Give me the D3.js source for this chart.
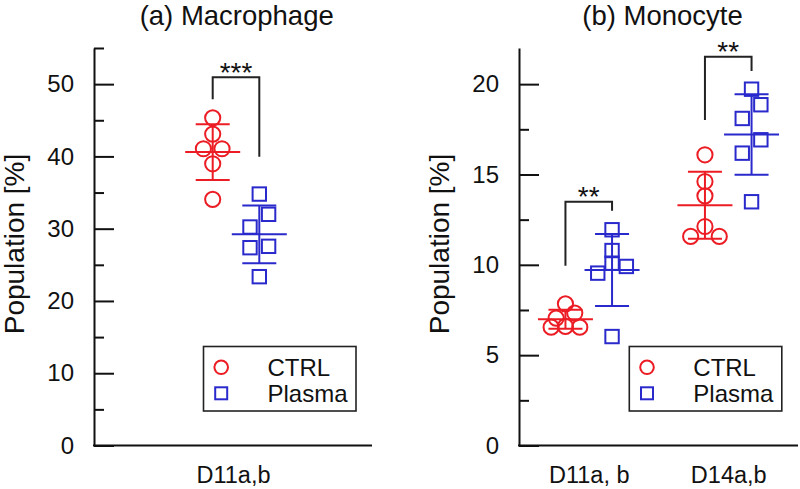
<!DOCTYPE html>
<html><head><meta charset="utf-8">
<script src="https://cdn.jsdelivr.net/npm/d3@7"></script>
<style>body{margin:0;background:#fff}svg{display:block}text{font-family:"Liberation Sans",Arial,Helvetica,sans-serif}</style>
</head><body>
<svg id="c" width="800" height="489"></svg>
<script>
// ---------- data ----------
const seriesNames = ["CTRL", "Plasma"];
const groupsA = ["D11a,b"];
const groupsB = ["D11a, b", "D14a,b"];
const macroCTRL   = [45.34, 43.09, 41.06, 41.06, 38.98, 34.06];
const macroPlasma = [34.79, 31.99, 30.23, 27.56, 27.37, 23.36];
const monoD11CTRL   = [7.84, 7.33, 7.05, 6.59, 6.55, 6.55];
const monoD11Plasma = [11.94, 10.79, 10.09, 9.91, 9.54, 6.03];
const monoD14CTRL   = [16.09, 14.61, 13.82, 12.12, 11.57, 11.57];
const monoD14Plasma = [19.72, 18.86, 18.10, 16.92, 16.18, 13.49];
const yMajorA = [0, 10, 20, 30, 40, 50];
const yMinorA = [5, 15, 25, 35, 45, 55];
const yMajorB = [0, 5, 10, 15, 20];
const yMinorB = [2.5, 7.5, 12.5, 17.5];
const sigA = [{group: "D11a,b", label: "***", top: 50.95, left: 47.9, right: 39.96}];
const sigB = [
  {group: "D11a, b", label: "**", top: 13.49, left: 9.95, right: 12.99},
  {group: "D14a,b", label: "**", top: 21.52, left: 18.01, right: 20.73}
];

// ---------- drawing ----------
const RED = "#ec1c24", BLUE = "#2929cc", INK = "#111";
const colorOf = s => s === "CTRL" ? RED : BLUE;
const svg = d3.select("#c");

// Prism-like row spreading of overlapping points
function spreadOffsets(values, y, T) {
  const idx = values.map((v, i) => i).sort((a, b) => values[a] - values[b]);
  const rows = [];
  let cur = null;
  idx.forEach(i => {
    if (cur && cur.length < 3 && Math.abs(y(values[cur[0]]) - y(values[i])) < T) cur.push(i);
    else { cur = [i]; rows.push(cur); }
  });
  const off = new Array(values.length).fill(0);
  const pat = {1: [0], 2: [-9.3, 9.3], 3: [-14.3, 14.3, 0]};
  rows.forEach(r => r.forEach((i, k) => off[i] = pat[r.length][k]));
  return off;
}

function drawPanel(cfg) {
  const g = svg.append("g");
  const y = d3.scaleLinear().domain([0, cfg.yMax]).range([cfg.bottom, cfg.top]);
  const x = d3.scalePoint().domain(cfg.groups).range([cfg.left, cfg.rangeEnd]).padding(0.5);
  const sub = d3.scalePoint().domain(seriesNames).range([-23.3, 23.3]);

  // y axis major
  const ya = g.append("g").attr("transform", `translate(${cfg.left},0)`)
    .call(d3.axisLeft(y).tickValues(cfg.majors).tickSizeInner(-20).tickSizeOuter(0).tickPadding(20).tickFormat(d3.format("d")));
  ya.select(".domain").attr("stroke", INK).attr("stroke-width", 2);
  ya.selectAll(".tick line").attr("stroke", INK).attr("stroke-width", 2);
  ya.selectAll(".tick text").attr("font-size", 24).attr("fill", INK).attr("font-family", null);
  // y axis minor
  const ym = g.append("g").attr("transform", `translate(${cfg.left},0)`)
    .call(d3.axisLeft(y).tickValues(cfg.minors).tickSizeInner(-10).tickSizeOuter(0).tickFormat(""));
  ym.select(".domain").remove();
  ym.selectAll(".tick line").attr("stroke", INK).attr("stroke-width", 2);

  // x axis
  g.append("line").attr("x1", cfg.left - 1).attr("x2", cfg.right).attr("y1", cfg.bottom).attr("y2", cfg.bottom)
    .attr("stroke", INK).attr("stroke-width", 2);
  const xa = g.append("g").attr("transform", `translate(0,${cfg.bottom})`)
    .call(d3.axisBottom(x).tickSize(0).tickPadding(21));
  xa.select(".domain").remove();
  xa.selectAll(".tick text").attr("font-size", 23.5).attr("fill", INK).attr("font-family", null)
    .attr("dx", cfg.labelShift || 0);

  // title & y label
  g.append("text").attr("x", cfg.titleX).attr("y", 25).attr("text-anchor", "middle")
    .attr("font-size", 27.5).attr("fill", INK).text(cfg.title);
  g.append("text").attr("transform", `translate(${cfg.ylabelX},244) rotate(-90)`).attr("text-anchor", "middle")
    .attr("font-size", 28).attr("fill", INK).text("Population [%]");

  // data
  cfg.data.forEach(d => {
    const cx = x(d.group) + sub(d.series);
    const col = colorOf(d.series);
    const offs = spreadOffsets(d.values, y, 14);
    const gg = g.append("g").attr("stroke", col).attr("fill", "none").attr("stroke-width", 2);
    if (d.series === "CTRL") {
      gg.selectAll("circle").data(d.values).join("circle")
        .attr("cx", (v, i) => cx + offs[i]).attr("cy", v => y(v)).attr("r", 7.6);
    } else {
      gg.selectAll("rect").data(d.values).join("rect")
        .attr("x", (v, i) => cx + offs[i] - 6.7).attr("y", v => y(v) - 6.7).attr("width", 13.4).attr("height", 13.4);
    }
    const m = d3.mean(d.values), sd = d3.deviation(d.values);
    gg.append("line").attr("x1", cx - 27.5).attr("x2", cx + 27.5).attr("y1", y(m)).attr("y2", y(m));
    gg.append("line").attr("x1", cx).attr("x2", cx).attr("y1", y(m + sd)).attr("y2", y(m - sd));
    [m + sd, m - sd].forEach(v => gg.append("line").attr("x1", cx - 17).attr("x2", cx + 17).attr("y1", y(v)).attr("y2", y(v)));
  });

  // significance brackets
  cfg.sig.forEach(s => {
    const xl = x(s.group) + sub("CTRL"), xr = x(s.group) + sub("Plasma");
    g.append("path").attr("d", `M${xl},${y(s.left)}V${y(s.top)}H${xr}V${y(s.right)}`)
      .attr("fill", "none").attr("stroke", "#222").attr("stroke-width", 2);
    g.append("text").attr("x", (xl + xr) / 2).attr("y", y(s.top) + 4.5).attr("text-anchor", "middle")
      .attr("font-size", 28).attr("fill", INK).text(s.label);
  });

  // legend
  const lg = g.append("g").attr("transform", `translate(${cfg.legendX},346.5)`);
  lg.append("rect").attr("width", 152.5).attr("height", 64.5).attr("fill", "#fff").attr("stroke", "#222").attr("stroke-width", 1.6);
  seriesNames.forEach((s, i) => {
    const cy = 20.8 + i * 26;
    if (s === "CTRL") lg.append("circle").attr("cx", 17.7).attr("cy", cy).attr("r", 6.8)
      .attr("fill", "none").attr("stroke", colorOf(s)).attr("stroke-width", 2);
    else lg.append("rect").attr("x", 17.7 - 6).attr("y", cy - 6).attr("width", 12).attr("height", 12)
      .attr("fill", "none").attr("stroke", colorOf(s)).attr("stroke-width", 2);
    lg.append("text").attr("x", 64).attr("y", cy + 8.5).attr("font-size", 24).attr("fill", INK).text(s);
  });
}

drawPanel({
  title: "(a) Macrophage", titleX: 236.7, ylabelX: 24,
  left: 94, right: 372, rangeEnd: 378, top: 48, bottom: 445.5, yMax: 55,
  majors: yMajorA, minors: yMinorA, groups: groupsA, labelShift: -3,
  data: [
    {group: groupsA[0], series: "CTRL", values: macroCTRL},
    {group: groupsA[0], series: "Plasma", values: macroPlasma}
  ],
  sig: sigA, legendX: 203.5
});
drawPanel({
  title: "(b) Monocyte", titleX: 662.5, ylabelX: 449.3,
  left: 519, right: 798, rangeEnd: 798, top: 48, bottom: 445.5, yMax: 22,
  majors: yMajorB, minors: yMinorB, groups: groupsB,
  data: [
    {group: groupsB[0], series: "CTRL", values: monoD11CTRL},
    {group: groupsB[0], series: "Plasma", values: monoD11Plasma},
    {group: groupsB[1], series: "CTRL", values: monoD14CTRL},
    {group: groupsB[1], series: "Plasma", values: monoD14Plasma}
  ],
  sig: sigB, legendX: 629.3
});
</script>
</body></html>
